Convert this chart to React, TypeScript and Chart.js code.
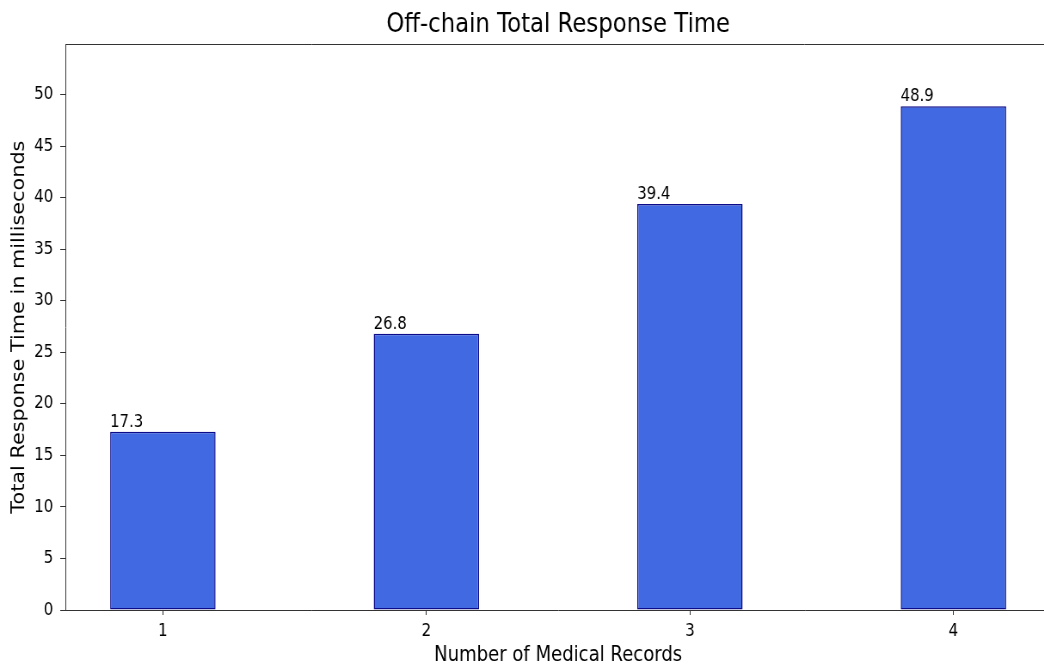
import React, { useEffect, useRef } from "react";
import { Chart, registerables } from "chart.js";

Chart.register(...registerables);

// ---- data ----
const categories = [1, 2, 3, 4];
const responseTimes = [17.3, 26.8, 39.4, 48.9];
const titleText = "Off-chain Total Response Time";
const xTitle = "Number of Medical Records";
const yTitle = "Total Response Time in milliseconds";

// ---- layout constants (reference looks horizontally squeezed) ----
const SX = 0.86;
const W = 1222;
const H = 667;
const FONT = "'DejaVu Sans', 'Liberation Sans', sans-serif";
const AXIS_COLOR = "#333333";

export default function App() {
  const ref = useRef<HTMLCanvasElement>(null);

  useEffect(() => {
    const canvas = ref.current;
    if (!canvas) return;

    const topSpine = {
      id: "topSpine",
      afterDraw(chart: any) {
        const { ctx, chartArea } = chart;
        ctx.save();
        ctx.strokeStyle = AXIS_COLOR;
        ctx.lineWidth = 1;
        ctx.beginPath();
        ctx.moveTo(chartArea.left, Math.round(chartArea.top) + 0.5);
        ctx.lineTo(chartArea.right, Math.round(chartArea.top) + 0.5);
        ctx.stroke();
        ctx.restore();
      },
    };

    const valueLabels = {
      id: "valueLabels",
      afterDatasetsDraw(chart: any) {
        const { ctx } = chart;
        const meta = chart.getDatasetMeta(0);
        ctx.save();
        ctx.font = `17.3px ${FONT}`;
        ctx.fillStyle = "#000";
        ctx.textAlign = "left";
        ctx.textBaseline = "alphabetic";
        meta.data.forEach((bar: any, i: number) => {
          const p = bar.getProps(["x", "y", "width"], true);
          ctx.fillText(responseTimes[i].toFixed(1), p.x - p.width / 2, p.y - 5);
        });
        ctx.restore();
      },
    };

    const chart = new Chart(canvas, {
      type: "bar",
      data: {
        datasets: [
          {
            data: categories.map((c, i) => ({ x: c, y: responseTimes[i] })),
            backgroundColor: "#4169E1",
            borderColor: "#0c0c8a",
            borderWidth: 1.5,
            borderSkipped: false,
            barPercentage: 0.4,
            categoryPercentage: 1,
          },
        ],
      },
      options: {
        responsive: false,
        animation: false,
        devicePixelRatio: 1,
        layout: { padding: 0 },
        plugins: {
          legend: { display: false },
          tooltip: { enabled: false },
          title: {
            display: true,
            text: titleText,
            fullSize: false,
            color: "#000",
            font: { family: FONT, size: 26.5, weight: "normal", lineHeight: 1.2 },
            padding: { top: 9, bottom: 3.5 },
          },
        },
        scales: {
          x: {
            type: "linear",
            min: 0.63,
            max: 4.37,
            offset: false,
            grid: {
              offset: false,
              drawOnChartArea: false,
              drawTicks: true,
              tickLength: 5,
              color: AXIS_COLOR,
            },
            border: { display: true, color: AXIS_COLOR, width: 1 },
            ticks: {
              stepSize: 1,
              includeBounds: false,
              color: "#000",
              padding: 6,
              font: { family: FONT, size: 17.5 },
              maxRotation: 0,
            },
            title: {
              display: true,
              text: xTitle,
              color: "#000",
              font: { family: FONT, size: 21, lineHeight: 1.1 },
              padding: { top: 0, bottom: 0 },
            },
            afterFit(scale: any) {
              scale.height = 57;
            },
          },
          y: {
            type: "linear",
            min: 0,
            max: 54.9,
            grid: {
              drawOnChartArea: false,
              drawTicks: true,
              tickLength: 6,
              color: AXIS_COLOR,
            },
            border: { display: true, color: AXIS_COLOR, width: 1 },
            ticks: {
              stepSize: 5,
              includeBounds: false,
              color: "#000",
              padding: 8,
              font: { family: FONT, size: 17.5 },
            },
            title: {
              display: true,
              text: yTitle,
              color: "#000",
              font: { family: FONT, size: 20.8, lineHeight: 1.2 },
              padding: { top: 10, bottom: 0 },
            },
            afterFit(scale: any) {
              scale.width = 76;
            },
          },
        },
      },
      plugins: [topSpine, valueLabels],
    } as any);

    return () => chart.destroy();
  }, []);

  return (
    <div
      style={{
        position: "fixed",
        left: 0,
        top: 0,
        width: 1044,
        height: 667,
        overflow: "hidden",
        background: "#fff",
      }}
    >
      <canvas
        ref={ref}
        width={W}
        height={H}
        style={{
          width: W,
          height: H,
          display: "block",
          transform: `scaleX(${SX})`,
          transformOrigin: "0 0",
        }}
      />
    </div>
  );
}
